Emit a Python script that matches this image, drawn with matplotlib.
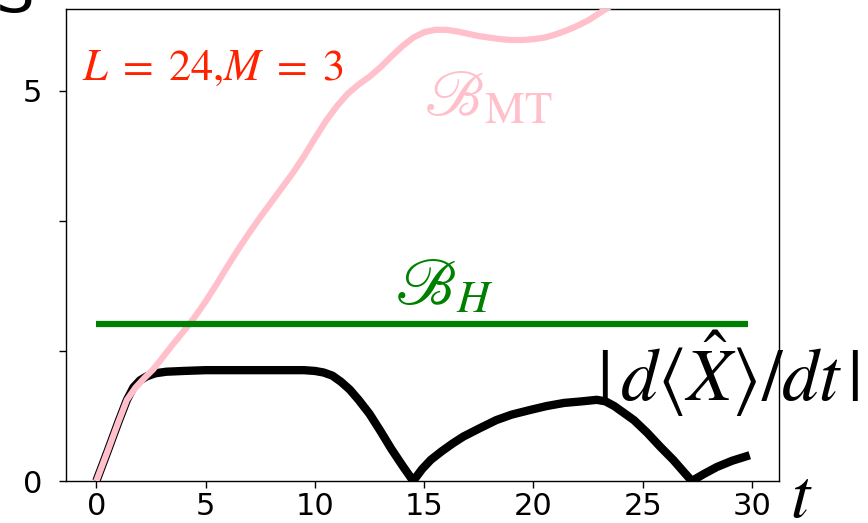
import matplotlib
matplotlib.use('Agg')
import matplotlib.pyplot as plt

plt.rcParams['mathtext.fontset'] = 'stix'

# |d<X>/dt|
t_rate = [0, 0.5, 1.0, 1.4, 1.7, 2.0, 2.3, 2.7, 3.2, 4, 5, 6, 7, 8, 9, 9.5, 10.0, 10.4, 10.8,
          11.2, 11.6, 12.0, 12.5, 13.0, 13.5, 14.0, 14.5, 14.9, 15.3, 15.8, 16.3, 16.8, 17.5,
          18.3, 19.0, 19.85, 20.6, 21.4, 22.2, 22.9, 23.3, 23.7, 24.1, 24.6, 25.2, 25.8, 26.4,
          26.9, 27.25, 27.8, 28.4, 29.1, 29.9]
rate = [0, 0.37, 0.75, 1.04, 1.2, 1.29, 1.34, 1.38, 1.40, 1.41, 1.42, 1.42, 1.42, 1.42, 1.42,
        1.42, 1.41, 1.39, 1.35, 1.27, 1.17, 1.04, 0.86, 0.64, 0.41, 0.20, 0.0, 0.15, 0.27,
        0.38, 0.48, 0.57, 0.67, 0.78, 0.85, 0.91, 0.96, 1.0, 1.02, 1.04, 1.02, 0.96, 0.88,
        0.78, 0.62, 0.44, 0.27, 0.11, 0.0, 0.09, 0.18, 0.26, 0.33]

# B_MT bound
t_mt = [0, 0.5, 1.0, 1.4, 1.8, 2.2, 2.6, 3.0, 3.5, 4.0, 4.5, 5.0, 5.5, 6.0, 6.5, 7.0, 7.5,
        8.0, 8.5, 9.0, 9.5, 10.0, 10.5, 11.0, 11.5, 12.0, 12.5, 13.0, 13.5, 14.0, 14.5, 15.0,
        15.5, 16.0, 16.5, 17.0, 17.5, 18.0, 18.5, 19.0, 19.5, 20.0, 20.5, 21.0, 21.5, 22.0,
        22.5, 23.0, 23.5, 24.0]
b_mt = [0, 0.37, 0.75, 1.04, 1.2, 1.32, 1.43, 1.57, 1.75, 1.92, 2.1, 2.3, 2.52, 2.75, 2.97,
        3.18, 3.38, 3.57, 3.76, 3.95, 4.16, 4.39, 4.61, 4.80, 4.96, 5.08, 5.18, 5.30, 5.44,
        5.57, 5.68, 5.75, 5.78, 5.78, 5.76, 5.73, 5.70, 5.68, 5.66, 5.65, 5.65, 5.66, 5.68,
        5.72, 5.77, 5.83, 5.90, 5.99, 6.08, 6.17]

# B_H bound (constant)
t_h = [0, 29.8]
b_h = [2.01, 2.01]

fig = plt.figure(figsize=(8.68, 5.23), dpi=100)
ax = fig.add_axes([0.076, 0.0803, 0.8215, 0.9025])

ax.plot(t_rate, rate, color='black', lw=6, solid_capstyle='butt', solid_joinstyle='round', zorder=2)
ax.plot(t_mt, b_mt, color='pink', lw=4.5, solid_capstyle='butt', solid_joinstyle='round', zorder=3)
ax.plot(t_h, b_h, color='green', lw=4.5, solid_capstyle='butt', zorder=3)

ax.text(-0.65, 5.14, r'$L\;=\;24{,}M\;=\;3$', color='#ff2200', fontsize=32, va='baseline')
ax.text(15.0, 4.68, r'$\mathscr{B}_{\rm MT}$', color='pink', fontsize=46, va='baseline')
ax.text(13.67, 2.27, r'$\mathscr{B}_H$', color='green', fontsize=47, va='baseline')
ax.text(22.9, 1.02, r'$|\,d\langle\hat{X}\rangle/dt\,|$', color='black', fontsize=53,
        va='baseline', clip_on=False)

fig.text(790 / 868, 1 - 517 / 523, r'$t$', fontsize=50, va='baseline')
fig.text(-4 / 868, 1 - 12 / 523, 'S', fontsize=44, va='baseline')

ax.set_xlim(-1.39, 31.24)
ax.set_ylim(0, 6.047)
ax.set_xticks([0, 5, 10, 15, 20, 25, 30])
ax.set_yticks([0, 5 / 3, 10 / 3, 5])
ax.set_yticklabels(['0', '', '', '5'])
ax.tick_params(labelsize=22, length=5, width=1)
ax.tick_params(axis='x', pad=3)
ax.tick_params(axis='y', pad=12)
for s in ax.spines.values():
    s.set_linewidth(1)

fig.savefig('out.png', dpi=100)
